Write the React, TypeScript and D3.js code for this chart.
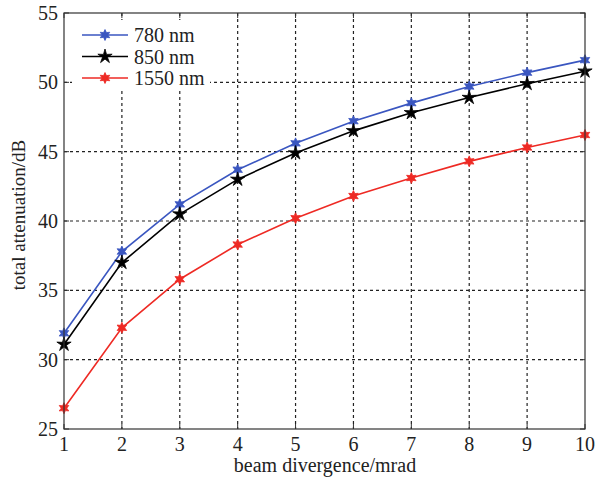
import React from "react";
import * as d3 from "d3";

const divergence = [1, 2, 3, 4, 5, 6, 7, 8, 9, 10];
const att780 = [31.9, 37.8, 41.2, 43.7, 45.6, 47.2, 48.5, 49.7, 50.7, 51.6];
const att850 = [31.1, 37.0, 40.5, 43.0, 44.9, 46.5, 47.8, 48.9, 49.9, 50.8];
const att1550 = [26.5, 32.3, 35.8, 38.3, 40.2, 41.8, 43.1, 44.3, 45.3, 46.2];
const seriesNames = ["780 nm", "850 nm", "1550 nm"];
const xTicks = [1, 2, 3, 4, 5, 6, 7, 8, 9, 10];
const yTicks = [25, 30, 35, 40, 45, 50, 55];

const W = 597, H = 483;
const L = 64, R = 585, T = 13, B = 429;
const FONT = "'Liberation Serif', 'Times New Roman', serif";

function star(n: number, r: number, ri: number, rot = -Math.PI / 2) {
  const pts: [number, number][] = [];
  for (let i = 0; i < 2 * n; i++) {
    const a = rot + (i * Math.PI) / n;
    const rr = i % 2 === 0 ? r : ri;
    pts.push([rr * Math.cos(a), rr * Math.sin(a)]);
  }
  return "M" + pts.map((p) => p[0].toFixed(2) + "," + p[1].toFixed(2)).join("L") + "Z";
}

export default function App() {
  const x = d3.scaleLinear().domain([1, 10]).range([L, R]);
  const y = d3.scaleLinear().domain([25, 55]).range([B, T]);
  const line = d3
    .line<number>()
    .x((_, i) => x(divergence[i]))
    .y((d) => y(d));

  const series = [
    { name: seriesNames[0], data: att780, color: "#3a56c0", marker: star(6, 5.5, 2.8, Math.PI / 2) },
    { name: seriesNames[1], data: att850, color: "#000000", marker: star(5, 7.5, 2.6) },
    { name: seriesNames[2], data: att1550, color: "#ee2a24", marker: star(6, 5.5, 2.8, Math.PI / 2) },
  ];

  return (
    <svg width={W} height={H} style={{ position: "absolute", left: 0, top: 0, background: "#fff" }}>
      <rect x={0} y={0} width={W} height={H} fill="#fff" />
      {/* grid */}
      {xTicks.slice(1, -1).map((t) => (
        <line key={"gx" + t} x1={x(t)} x2={x(t)} y1={T} y2={B} stroke="#222" strokeWidth={1.2} strokeDasharray="3,3" />
      ))}
      {yTicks.slice(1, -1).map((t) => (
        <line key={"gy" + t} x1={L} x2={R} y1={y(t)} y2={y(t)} stroke="#222" strokeWidth={1.2} strokeDasharray="3,3" />
      ))}
      {/* ticks */}
      {xTicks.map((t) => (
        <g key={"tx" + t}>
          <line x1={x(t)} x2={x(t)} y1={B} y2={B - 5} stroke="#333" />
          <line x1={x(t)} x2={x(t)} y1={T} y2={T + 5} stroke="#333" />
          <text x={x(t)} y={451} textAnchor="middle" fontFamily={FONT} fontSize={20} fill="#222">
            {t}
          </text>
        </g>
      ))}
      {yTicks.map((t) => (
        <g key={"ty" + t}>
          <line x1={L} x2={L + 5} y1={y(t)} y2={y(t)} stroke="#333" />
          <line x1={R} x2={R - 5} y1={y(t)} y2={y(t)} stroke="#333" />
          <text x={58} y={y(t) + 7} textAnchor="end" fontFamily={FONT} fontSize={20} fill="#222">
            {t}
          </text>
        </g>
      ))}
      {/* legend background */}
      <rect x={72} y={20} width={138} height={68} fill="#fff" />
      {/* series */}
      {series.map((s) => (
        <g key={s.name}>
          <path d={line(s.data) || ""} fill="none" stroke={s.color} strokeWidth={1.6} />
          {s.data.map((v, i) => (
            <path key={i} d={s.marker} transform={`translate(${x(divergence[i])},${y(v)})`} fill={s.color} stroke={s.color} strokeWidth={0.8} />
          ))}
        </g>
      ))}
      {/* frame */}
      <rect x={L} y={T} width={R - L} height={B - T} fill="none" stroke="#333" strokeWidth={1.2} />
      {/* legend */}
      {series.map((s, i) => {
        const ly = 35 + i * 21.5;
        return (
          <g key={"lg" + s.name}>
            <line x1={82} x2={128} y1={ly} y2={ly} stroke={s.color} strokeWidth={1.6} />
            <path d={s.marker} transform={`translate(105,${ly})`} fill={s.color} stroke={s.color} strokeWidth={0.8} />
            <text x={134} y={ly + 7} fontFamily={FONT} fontSize={20} fill="#222">
              {s.name}
            </text>
          </g>
        );
      })}
      {/* axis labels */}
      <text x={325} y={472} textAnchor="middle" fontFamily={FONT} fontSize={20} fill="#222">
        beam divergence/mrad
      </text>
      <text transform={`translate(25,215) rotate(-90)`} textAnchor="middle" fontFamily={FONT} fontSize={19} fill="#222">
        total attenuation/dB
      </text>
    </svg>
  );
}
